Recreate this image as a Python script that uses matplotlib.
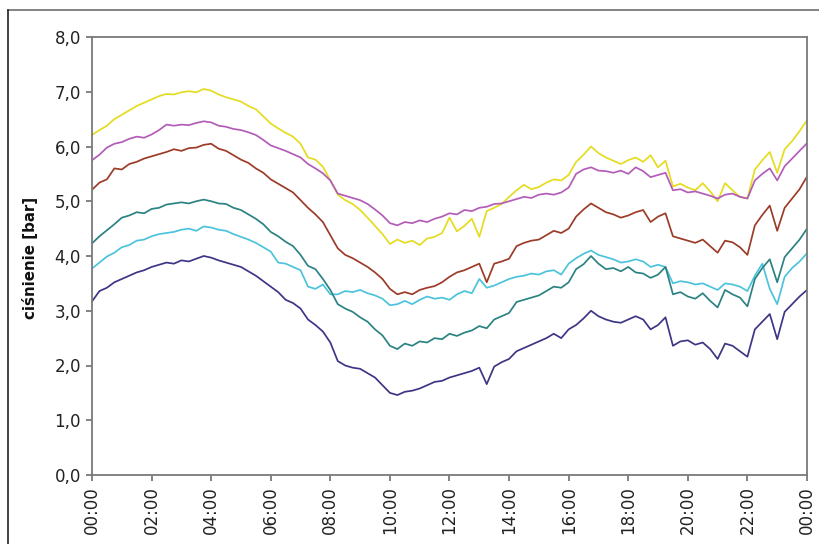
import numpy as np
import matplotlib
matplotlib.use('Agg')
import matplotlib.pyplot as plt
from matplotlib.lines import Line2D
from matplotlib.ticker import FuncFormatter, MultipleLocator

# czas pomiaru co 15 minut [h]
godz = np.arange(0, 24.25, 0.25)

zolta = [6.21, 6.30, 6.38, 6.50, 6.58, 6.66, 6.74, 6.80, 6.86, 6.92, 6.96, 6.95,
         6.99, 7.01, 6.99, 7.05, 7.02, 6.95, 6.90, 6.86, 6.82, 6.74, 6.68, 6.55,
         6.42, 6.33, 6.25, 6.18, 6.05, 5.80, 5.76, 5.63, 5.38, 5.12, 5.02, 4.95,
         4.84, 4.70, 4.55, 4.40, 4.22, 4.30, 4.24, 4.28, 4.20, 4.32, 4.35, 4.42,
         4.70, 4.45, 4.55, 4.68, 4.35, 4.82, 4.88, 4.95, 5.08, 5.20, 5.30, 5.22,
         5.26, 5.34, 5.40, 5.38, 5.48, 5.72, 5.85, 6.00, 5.88, 5.80, 5.74, 5.68,
         5.75, 5.80, 5.72, 5.84, 5.62, 5.74, 5.27, 5.32, 5.25, 5.20, 5.33, 5.18,
         5.00, 5.33, 5.20, 5.08, 5.05, 5.58, 5.75, 5.90, 5.52, 5.95, 6.10, 6.28,
         6.48]

fioletowa = [5.75, 5.85, 5.98, 6.05, 6.08, 6.14, 6.18, 6.16, 6.22, 6.30, 6.40, 6.38,
             6.40, 6.39, 6.43, 6.46, 6.44, 6.38, 6.36, 6.32, 6.30, 6.26, 6.21, 6.12,
             6.02, 5.97, 5.92, 5.86, 5.80, 5.68, 5.60, 5.51, 5.38, 5.14, 5.10, 5.06,
             5.02, 4.95, 4.85, 4.74, 4.60, 4.56, 4.62, 4.60, 4.65, 4.62, 4.68, 4.72,
             4.78, 4.76, 4.84, 4.82, 4.88, 4.90, 4.95, 4.96, 5.00, 5.04, 5.08, 5.06,
             5.12, 5.14, 5.12, 5.16, 5.25, 5.50, 5.58, 5.62, 5.56, 5.55, 5.52, 5.56,
             5.50, 5.62, 5.55, 5.44, 5.48, 5.52, 5.20, 5.22, 5.16, 5.18, 5.14, 5.10,
             5.05, 5.12, 5.14, 5.08, 5.05, 5.38, 5.50, 5.60, 5.38, 5.64, 5.78, 5.92,
             6.06]

brazowa = [5.21, 5.34, 5.40, 5.60, 5.58, 5.68, 5.72, 5.78, 5.82, 5.86, 5.90, 5.95,
           5.92, 5.97, 5.98, 6.03, 6.05, 5.96, 5.92, 5.84, 5.76, 5.70, 5.60, 5.52,
           5.40, 5.32, 5.24, 5.16, 5.02, 4.88, 4.76, 4.62, 4.38, 4.14, 4.02, 3.96,
           3.88, 3.80, 3.70, 3.58, 3.40, 3.30, 3.34, 3.30, 3.38, 3.42, 3.45, 3.52,
           3.62, 3.70, 3.74, 3.80, 3.86, 3.52, 3.86, 3.90, 3.95, 4.18, 4.24, 4.28,
           4.30, 4.38, 4.46, 4.42, 4.50, 4.72, 4.85, 4.96, 4.88, 4.80, 4.76, 4.70,
           4.74, 4.80, 4.84, 4.62, 4.72, 4.78, 4.36, 4.32, 4.28, 4.24, 4.30, 4.18,
           4.06, 4.28, 4.25, 4.16, 4.02, 4.56, 4.75, 4.92, 4.46, 4.88, 5.05, 5.22,
           5.45]

morska = [4.23, 4.36, 4.47, 4.58, 4.70, 4.74, 4.80, 4.78, 4.86, 4.88, 4.94, 4.96,
          4.98, 4.96, 5.00, 5.03, 5.00, 4.96, 4.95, 4.88, 4.84, 4.76, 4.68, 4.58,
          4.44, 4.36, 4.26, 4.18, 4.02, 3.82, 3.76, 3.58, 3.38, 3.12, 3.04, 2.98,
          2.88, 2.80, 2.66, 2.55, 2.36, 2.30, 2.40, 2.36, 2.44, 2.42, 2.50, 2.48,
          2.58, 2.54, 2.60, 2.64, 2.72, 2.68, 2.84, 2.90, 2.96, 3.16, 3.20, 3.24,
          3.28, 3.36, 3.44, 3.42, 3.52, 3.76, 3.85, 4.00, 3.86, 3.76, 3.78, 3.72,
          3.80, 3.70, 3.68, 3.60, 3.66, 3.80, 3.30, 3.34, 3.26, 3.22, 3.32, 3.18,
          3.06, 3.38, 3.30, 3.24, 3.08, 3.58, 3.78, 3.94, 3.52, 3.98, 4.14, 4.30,
          4.50]

blekitna = [3.77, 3.88, 3.99, 4.06, 4.16, 4.20, 4.28, 4.30, 4.36, 4.40, 4.42, 4.44,
            4.48, 4.50, 4.46, 4.54, 4.52, 4.48, 4.46, 4.40, 4.35, 4.30, 4.24, 4.16,
            4.08, 3.88, 3.86, 3.80, 3.74, 3.44, 3.40, 3.48, 3.30, 3.30, 3.36, 3.34,
            3.38, 3.32, 3.28, 3.22, 3.10, 3.12, 3.18, 3.12, 3.20, 3.26, 3.22, 3.24,
            3.20, 3.30, 3.36, 3.32, 3.58, 3.42, 3.46, 3.52, 3.58, 3.62, 3.64, 3.68,
            3.66, 3.72, 3.74, 3.66, 3.86, 3.96, 4.04, 4.10, 4.02, 3.98, 3.94, 3.88,
            3.90, 3.94, 3.90, 3.80, 3.84, 3.80, 3.50, 3.54, 3.52, 3.48, 3.50, 3.44,
            3.38, 3.50, 3.48, 3.44, 3.36, 3.64, 3.86, 3.40, 3.12, 3.62, 3.78, 3.90,
            4.05]

granatowa = [3.17, 3.36, 3.42, 3.52, 3.58, 3.64, 3.70, 3.74, 3.80, 3.84, 3.88, 3.86,
             3.92, 3.90, 3.95, 4.00, 3.97, 3.92, 3.88, 3.84, 3.80, 3.72, 3.64, 3.54,
             3.44, 3.34, 3.20, 3.14, 3.04, 2.84, 2.74, 2.62, 2.42, 2.08, 2.00, 1.96,
             1.94, 1.86, 1.78, 1.64, 1.50, 1.46, 1.52, 1.54, 1.58, 1.64, 1.70, 1.72,
             1.78, 1.82, 1.86, 1.90, 1.96, 1.66, 1.98, 2.06, 2.12, 2.26, 2.32, 2.38,
             2.44, 2.50, 2.58, 2.50, 2.66, 2.74, 2.86, 3.00, 2.90, 2.84, 2.80, 2.78,
             2.84, 2.90, 2.84, 2.66, 2.74, 2.88, 2.36, 2.44, 2.46, 2.38, 2.42, 2.30,
             2.12, 2.40, 2.36, 2.26, 2.16, 2.66, 2.80, 2.94, 2.48, 2.98, 3.12, 3.26,
             3.38]

serie = [zolta, fioletowa, brazowa, blekitna, morska, granatowa]
kolory = ['#e5dc20', '#b35cb8', '#9c3b28', '#4cc3dc', '#2b8282', '#3d3585']

etykiety_x = ['00:00', '02:00', '04:00', '06:00', '08:00', '10:00', '12:00',
              '14:00', '16:00', '18:00', '20:00', '22:00', '00:00']

fig = plt.figure(figsize=(8.2, 5.44), dpi=100)
ax = fig.add_axes([92/820, 1 - 475/544, 715/820, 438/544])

for y, c in zip(serie, kolory):
    ax.plot(godz, y, color=c, lw=1.25)

ax.set_xlim(0, 24)
ax.set_ylim(0, 8)
ax.yaxis.set_major_locator(MultipleLocator(1))
ax.yaxis.set_major_formatter(FuncFormatter(lambda v, p: ('%.1f' % v).replace('.', ',')))
ax.set_xticks(np.arange(0, 25, 2))
ax.set_xticklabels(etykiety_x, rotation=90)

szary = '#7a7a7a'
for s in ax.spines.values():
    s.set_color(szary)
    s.set_linewidth(1.3)
ax.tick_params(axis='both', direction='out', length=4.5, width=1.3, color=szary,
               labelsize=12, labelcolor='#222222', pad=3.5)

fig.text(30/820, 1 - 258/544, 'ciśnienie [bar]', rotation=90, ha='center', va='center',
         fontsize=10.8, fontweight='bold', color='#111111')

# ramka wokół rysunku
fig.add_artist(Line2D([8/820, 1], [1 - 10/544, 1 - 10/544], transform=fig.transFigure,
                      color='#6e6e6e', lw=1.2))
fig.add_artist(Line2D([8/820, 8/820], [0, 1 - 10/544], transform=fig.transFigure,
                      color='#222222', lw=1.2))

fig.savefig('out.png', dpi=100)
